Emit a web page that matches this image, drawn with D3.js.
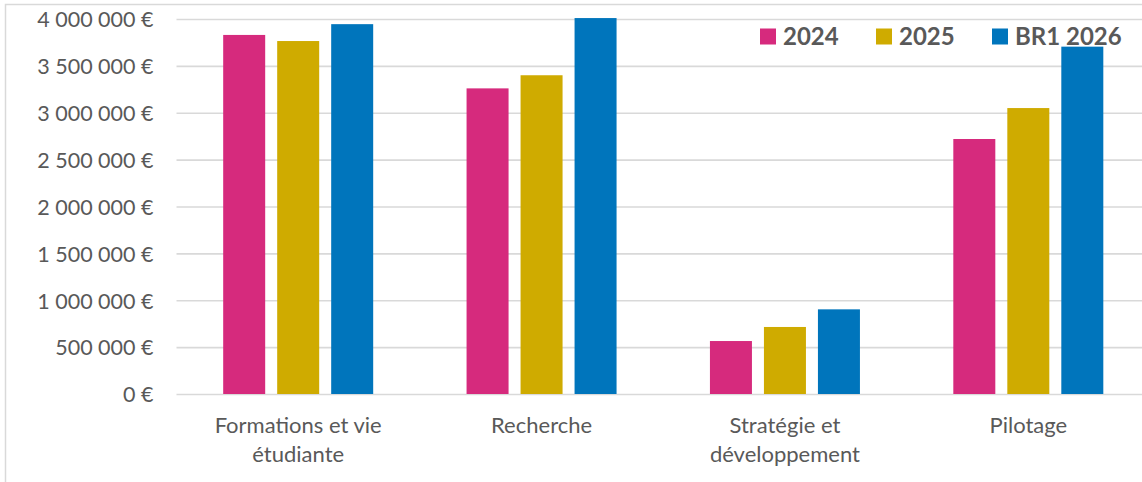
<!DOCTYPE html>
<html>
<head>
<meta charset="utf-8">
<script src="https://cdn.jsdelivr.net/npm/d3@7"></script>
<style>
  body { margin: 0; background: #fff; }
  svg { display: block; font-family: Lato, "Open Sans", sans-serif; }
</style>
</head>
<body>
<div id="vis"></div>
<script>
// categories and their wrapped labels
var categories = ["Formations et vie étudiante", "Recherche", "Stratégie et développement", "Pilotage"];
var categoryLines = [["Formations et vie", "étudiante"], ["Recherche"], ["Stratégie et", "développement"], ["Pilotage"]];

// series
var series = ["2024", "2025", "BR1 2026"];
var values2024 = [3830000, 3260000, 565000, 2720000];
var values2025 = [3765000, 3400000, 715000, 3050000];
var valuesBR1 = [3945000, 4010000, 903000, 3705000];
var seriesColors = ["#d62a7d", "#cfab00", "#0075bc"];

var yTicks = [0, 500000, 1000000, 1500000, 2000000, 2500000, 3000000, 3500000, 4000000];

var width = 1142;
var height = 482;
var margin = { top: 19, left: 176.5, bottom: 88, right: -8 };
var fontFamily = "Lato, 'Open Sans', sans-serif";
var textColor = "#595959";
var gridColor = "#d9d9d9";

var rows = [values2024, values2025, valuesBR1];
var data = categories.map(function(c, i) {
    return {
        category: c,
        lines: categoryLines[i],
        values: series.map(function(s, j) { return { key: s, value: rows[j][i], color: seriesColors[j] }; })
    };
});

var fr = d3.formatLocale({ decimal: ",", thousands: "\u00a0", grouping: [3], currency: ["", "\u00a0€"] });
var fmt = fr.format("$,.0f");

var svg = d3.select("#vis").append("svg")
    .attr("width", width)
    .attr("height", height);

svg.append("rect")
    .attr("width", width).attr("height", height)
    .attr("fill", "#fff");

// chart area border (cropped on the right and bottom)
svg.append("rect")
    .attr("x", 5.5).attr("y", 4.5)
    .attr("width", width + 20).attr("height", height + 20)
    .attr("fill", "none")
    .attr("stroke", gridColor)
    .attr("stroke-width", 1.5);

var innerW = width - margin.left - margin.right;
var innerH = height - margin.top - margin.bottom;

var x0 = d3.scaleBand()
    .domain(categories)
    .range([margin.left, width - margin.right])
    .padding(0);

var x1 = d3.scaleBand()
    .domain(series)
    .range([0, 150])
    .paddingInner(12 / 54);

var y = d3.scaleLinear()
    .domain([0, 4000000])
    .range([margin.top + innerH, margin.top]);

// y axis with gridlines
var yAxis = svg.append("g")
    .attr("transform", "translate(" + margin.left + ",0)")
    .call(d3.axisLeft(y)
        .tickValues(yTicks)
        .tickSize(-innerW)
        .tickPadding(23)
        .tickFormat(fmt))
    .attr("font-family", fontFamily);

yAxis.select(".domain").remove();
yAxis.selectAll(".tick line")
    .attr("stroke", gridColor)
    .attr("stroke-width", 1.6);
yAxis.selectAll(".tick text")
    .attr("fill", textColor)
    .attr("font-size", "21.5px")
    .attr("dy", "0.36em");

// bars
var groups = svg.append("g").selectAll("g")
    .data(data)
    .enter().append("g")
    .attr("transform", function(d) {
        return "translate(" + (x0(d.category) + x0.bandwidth() / 2 - 75) + ",0)";
    });

groups.selectAll("rect")
    .data(function(d) { return d.values; })
    .enter().append("rect")
    .attr("x", function(d) { return x1(d.key); })
    .attr("width", x1.bandwidth())
    .attr("y", function(d) { return y(d.value); })
    .attr("height", function(d) { return y(0) - y(d.value); })
    .attr("fill", function(d) { return d.color; });

// x axis labels
var xAxis = svg.append("g")
    .attr("transform", "translate(0," + y(0) + ")")
    .call(d3.axisBottom(x0).tickSize(0).tickFormat(""))
    .attr("font-family", fontFamily);

xAxis.select(".domain").remove();

xAxis.selectAll(".tick").each(function(d, i) {
    var t = d3.select(this).append("text")
        .attr("fill", textColor)
        .attr("font-size", "22px")
        .attr("text-anchor", "middle");
    categoryLines[i].forEach(function(line, k) {
        t.append("tspan")
            .attr("x", 0)
            .attr("y", 38.5 + k * 29.5)
            .text(line);
    });
});

// legend
var legendX = [760, 876, 992];
var legend = svg.append("g").selectAll("g")
    .data(series)
    .enter().append("g")
    .attr("transform", function(d, i) { return "translate(" + legendX[i] + ",28.5)"; });

legend.append("rect")
    .attr("width", 16)
    .attr("height", 16)
    .attr("fill", function(d, i) { return seriesColors[i]; });

legend.append("text")
    .attr("x", 23)
    .attr("y", 16)
    .attr("fill", textColor)
    .attr("font-size", "24px")
    .attr("font-weight", "bold")
    .text(function(d) { return d; });
</script>
</body>
</html>
